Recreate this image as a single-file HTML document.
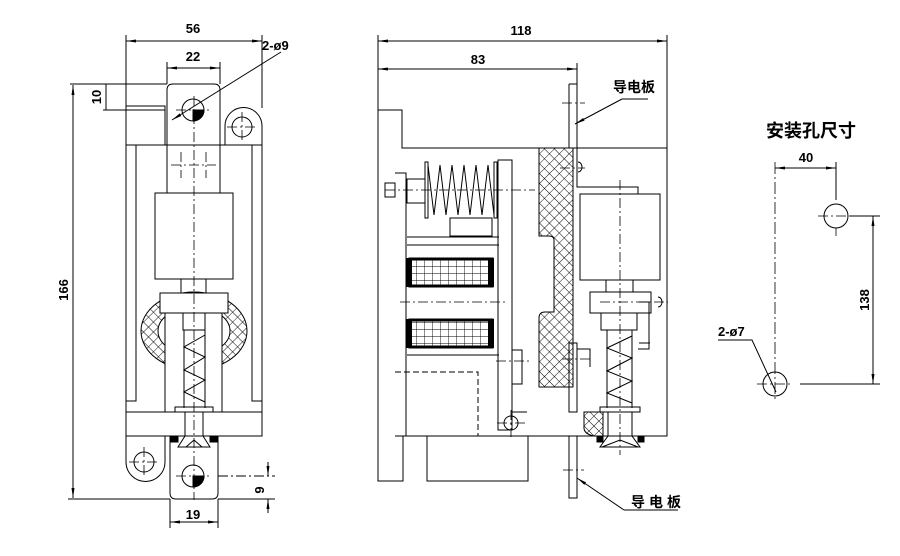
<!DOCTYPE html>
<html><head><meta charset="utf-8"><style>html,body{margin:0;padding:0;background:#fff}svg{display:block}
text{font-family:"Liberation Sans","Noto Sans CJK SC",sans-serif;font-weight:bold;fill:#000}</style></head>
<body>
<svg width="900" height="556" viewBox="0 0 900 556" xmlns="http://www.w3.org/2000/svg">
<defs>
<pattern id="h" width="7" height="7" patternUnits="userSpaceOnUse" patternTransform="rotate(45)">
<rect width="7" height="7" fill="#fff"/><path d="M0 0H7M0 0V7" stroke="#000" stroke-width="0.9"/></pattern>
<pattern id="g" width="8" height="7" patternUnits="userSpaceOnUse">
<rect width="8" height="7" fill="#fff"/><path d="M0 0H8M0 0V7" stroke="#000" stroke-width="0.9"/></pattern>
<marker id="a" markerWidth="10" markerHeight="6" refX="10" refY="3" orient="auto-start-reverse" markerUnits="userSpaceOnUse"><path d="M0 1.5L10 3L0 4.5z" fill="#000"/></marker>
</defs>
<g stroke="#000" stroke-width="1" fill="none">
<!-- LEFT VIEW dims -->
<line x1="126" y1="35" x2="126" y2="145"/><line x1="262" y1="35" x2="262" y2="108"/>
<line x1="126" y1="41" x2="262" y2="41" marker-start="url(#a)" marker-end="url(#a)"/>
<line x1="167" y1="62" x2="167" y2="84"/><line x1="220" y1="62" x2="220" y2="84"/>
<line x1="167" y1="68" x2="220" y2="68" marker-start="url(#a)" marker-end="url(#a)"/>
<line x1="281" y1="52" x2="172" y2="120" marker-end="url(#a)"/>
<line x1="70" y1="84" x2="167" y2="84"/><line x1="103" y1="110" x2="165" y2="110"/>
<line x1="106" y1="84" x2="106" y2="110"/>
<line x1="73" y1="85" x2="73" y2="498" marker-start="url(#a)" marker-end="url(#a)"/>
<line x1="68" y1="499" x2="170" y2="499"/>
<line x1="218" y1="476" x2="275" y2="476" stroke-dasharray="10 3 2 3"/><line x1="218" y1="499" x2="275" y2="499"/>
<line x1="268" y1="462" x2="268" y2="476" marker-end="url(#a)"/><line x1="268" y1="513" x2="268" y2="499" marker-end="url(#a)"/>
<line x1="170" y1="499" x2="170" y2="528"/><line x1="218" y1="499" x2="218" y2="528"/>
<line x1="170" y1="522" x2="218" y2="522" marker-start="url(#a)" marker-end="url(#a)"/>
<!-- left view body -->
<path d="M167 187V90Q167 84 173 84H214Q220 84 220 90V187"/>
<rect x="126" y="106" width="39" height="39"/>
<path d="M225 145V126A18.5 18.5 0 0 1 262 126V145"/>
<rect x="126" y="145" width="136" height="291"/>
<path d="M136 145V401H126M252 145V401H262"/>
<rect x="126" y="412" width="136" height="24"/>
<rect x="167" y="145" width="53" height="48"/>
<rect x="155" y="193" width="78" height="86"/>
<rect x="181" y="279" width="25" height="14"/>
<ellipse cx="194" cy="331" rx="53" ry="39" fill="url(#h)"/>
<ellipse cx="194" cy="331" rx="36" ry="24" fill="#fff"/>
<rect x="165" y="313" width="57" height="99" fill="#fff"/>
<rect x="160" y="293" width="68" height="20" fill="#fff"/>
<rect x="183" y="313" width="22" height="17"/>
<line x1="184" y1="330" x2="184" y2="408"/><line x1="205" y1="330" x2="205" y2="408"/>
<path d="M205 335L184 347L205 357L184 370L205 380L184 392L205 402" />
<rect x="175" y="407" width="38" height="5"/>
<path d="M185 412V436L178 447H210L203 436V412M185 436H203M186 447L194 440L202 447"/>
<rect x="170" y="436" width="8" height="6" fill="#000"/><rect x="210" y="436" width="8" height="6" fill="#000"/>
<path d="M170 442V493Q170 499 176 499H212Q218 499 218 493V442"/>
<path d="M126 436V462A19.5 19.5 0 0 0 165 462V436"/>
<circle cx="193" cy="110" r="11"/><path d="M193 110H204A11 11 0 0 1 193 121Z" fill="#000"/>
<circle cx="242" cy="127" r="10"/><circle cx="144" cy="462" r="10"/>
<circle cx="193" cy="476" r="11"/><path d="M193 476H204A11 11 0 0 1 193 487Z" fill="#000"/>
<g stroke-dasharray="10 3 2 3" stroke-width="0.8">
<line x1="194" y1="96" x2="194" y2="500"/><line x1="176" y1="110" x2="212" y2="110"/>
<line x1="227" y1="127" x2="258" y2="127"/><line x1="242" y1="112" x2="242" y2="142"/>
<line x1="129" y1="462" x2="160" y2="462"/><line x1="144" y1="447" x2="144" y2="478"/>
<line x1="176" y1="476" x2="212" y2="476"/>
<line x1="171" y1="165" x2="216" y2="165"/><line x1="181" y1="152" x2="181" y2="178"/><line x1="206" y1="152" x2="206" y2="178"/>
</g>
<!-- MIDDLE VIEW dims -->
<line x1="378" y1="35" x2="378" y2="110"/><line x1="667" y1="35" x2="667" y2="148"/><line x1="577" y1="63" x2="577" y2="84"/>
<line x1="378" y1="41" x2="667" y2="41" marker-start="url(#a)" marker-end="url(#a)"/>
<line x1="378" y1="69" x2="577" y2="69" marker-start="url(#a)" marker-end="url(#a)"/>
<path d="M378 110H402V148H667V436H527"/>
<path d="M378 110V481H403V436"/>
<path d="M569 84H577V187H638V194"/>
<path d="M569 84V148"/>
<path d="M539 148V236H549Q554 236 554 240V312H545Q539 312 539 318V387H573V148Z" fill="url(#h)"/>
<rect x="580" y="194" width="80" height="86"/>
<rect x="606" y="280" width="27" height="12"/>
<rect x="590" y="292" width="61" height="21"/>
<rect x="601" y="313" width="36" height="17"/>
<line x1="607" y1="330" x2="607" y2="408"/><line x1="632" y1="330" x2="632" y2="408"/>
<path d="M632 336L607 348L632 358L607 371L632 381L607 393L632 403"/>
<rect x="600" y="407" width="40" height="5"/>
<path d="M608 412V436L600 447H640L632 436V412M608 436H632M602 447L620 440L638 447"/>
<rect x="597" y="436" width="6" height="6" fill="#000"/><rect x="638" y="436" width="6" height="6" fill="#000"/>
<path d="M584 412H603V436L594 436Q583 434 584 426Z" fill="url(#h)"/>
<rect x="569" y="343" width="8" height="69"/>
<rect x="569" y="436" width="8" height="62"/>
<path d="M577 349H590V367M639 302H649V349H638M639 343H650"/>
<path d="M395 436H527"/>
<path d="M395 173H406V436M406 173V436"/>
<rect x="385" y="183" width="10" height="14"/>
<rect x="407" y="179" width="18" height="24"/>
<rect x="425" y="162" width="3" height="56"/><rect x="494" y="162" width="3" height="56"/>
<path d="M428 165L434 215L440 165L446 215L452 165L458 215L464 165L470 215L476 165L482 215L488 165L494 215"/>
<rect x="498" y="160" width="14" height="270"/>
<rect x="450" y="218" width="42" height="18"/>
<path d="M407 237H499M407 245H499M407 355H499"/>
<rect x="410" y="259" width="82" height="27" fill="url(#g)" stroke-width="3"/>
<rect x="406" y="258" width="6" height="29" fill="#000" stroke="none"/><rect x="488" y="258" width="6" height="29" fill="#000" stroke="none"/>
<rect x="410" y="320" width="82" height="27" fill="url(#g)" stroke-width="3"/>
<rect x="406" y="319" width="6" height="29" fill="#000" stroke="none"/><rect x="488" y="319" width="6" height="29" fill="#000" stroke="none"/>
<path d="M395 372H478V436" stroke-dasharray="6 3"/>
<rect x="427" y="436" width="101" height="45"/>
<path d="M512 350H522V384H512"/>
<path d="M512 405V412Q512 412 527 412"/>
<circle cx="511" cy="423" r="7"/>
<g stroke-dasharray="10 3 2 3" stroke-width="0.8">
<line x1="385" y1="190" x2="535" y2="190"/><line x1="400" y1="302" x2="505" y2="302"/>
<line x1="620" y1="180" x2="620" y2="455"/><line x1="560" y1="168" x2="585" y2="168"/>
<line x1="600" y1="302" x2="668" y2="302"/><line x1="497" y1="423" x2="525" y2="423"/><line x1="511" y1="410" x2="511" y2="437"/>
<line x1="496" y1="361" x2="530" y2="361"/><line x1="562" y1="359" x2="590" y2="359"/>
<line x1="563" y1="470" x2="584" y2="470"/><line x1="562" y1="103" x2="585" y2="103"/>
</g>
<path d="M578 162A4 5 0 0 1 578 172M658 297A4 5 0 0 1 658 307"/>
<line x1="622" y1="99" x2="575" y2="124" marker-end="url(#a)"/><line x1="622" y1="99" x2="648" y2="99"/>
<line x1="624" y1="510" x2="577" y2="478" marker-end="url(#a)"/><line x1="624" y1="510" x2="678" y2="510"/>
<!-- RIGHT VIEW -->
<line x1="775" y1="168" x2="836" y2="168" marker-start="url(#a)" marker-end="url(#a)"/>
<line x1="836" y1="162" x2="836" y2="200"/>
<line x1="775" y1="162" x2="775" y2="400" stroke-dasharray="12 3 2 3" stroke-width="0.8"/>
<circle cx="836" cy="216" r="12"/><circle cx="775" cy="384" r="12"/>
<g stroke-dasharray="10 3 2 3" stroke-width="0.8"><line x1="818" y1="216" x2="854" y2="216"/><line x1="836" y1="228" x2="836" y2="236"/>
<line x1="757" y1="384" x2="792" y2="384"/></g>
<line x1="850" y1="216" x2="880" y2="216"/><line x1="800" y1="384" x2="880" y2="384"/>
<line x1="873" y1="216" x2="873" y2="384" marker-start="url(#a)" marker-end="url(#a)"/>
<path d="M718 340H752L776 392"/>
</g>
<g font-size="13">
<text x="193" y="33" text-anchor="middle">56</text>
<text x="193" y="61" text-anchor="middle">22</text>
<text x="262" y="50">2-ø9</text>
<text transform="translate(101 97) rotate(-90)" text-anchor="middle">10</text>
<text transform="translate(68 290) rotate(-90)" text-anchor="middle">166</text>
<text transform="translate(264 490) rotate(-90)" text-anchor="middle">9</text>
<text x="193" y="519" text-anchor="middle">19</text>
<text x="521" y="35" text-anchor="middle">118</text>
<text x="478" y="64" text-anchor="middle">83</text>
<text x="613" y="92" font-size="14">导电板</text>
<text x="631" y="507" font-size="14" letter-spacing="4">导电板</text>
<text x="766" y="137" font-size="18">安装孔尺寸</text>
<text x="806" y="162" text-anchor="middle">40</text>
<text transform="translate(869 300) rotate(-90)" text-anchor="middle">138</text>
<text x="718" y="336">2-ø7</text>
</g>
</svg>
</body></html>
